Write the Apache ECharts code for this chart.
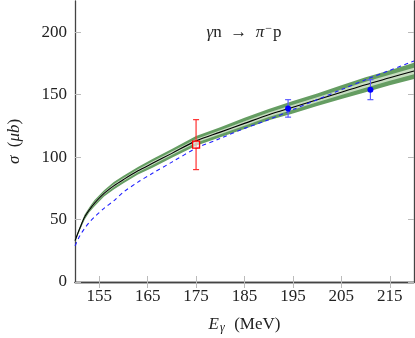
<!DOCTYPE html>
<html><head><meta charset="utf-8">
<script src="https://cdn.jsdelivr.net/npm/echarts@6/dist/echarts.min.js"></script>
<style>html,body{margin:0;padding:0;background:#fff}#c{width:415px;height:338px}</style>
</head><body><div id="c"></div>
<script>
// ---- data ----
var energies   = [150,151,152,153,154,156,158,160,163,166,170,175,180,185,190,195,200,205,210,215,220];
var central    = [33,43,52,58,63,71,77,82,89,95,103,113,120,127,134,140,146,152,158,163.5,169];
var outerHigh  = [34,44.5,54,60,65.5,73.5,80,85,92,98.5,106.5,117,124,131.5,138.5,145,151,157.5,164,169.5,175.5];
var outerLow   = [32,41.5,50,56,60.5,68.5,74,79,86,91.5,99.5,109,116,122.5,129.5,135,141,146.5,152,157.5,162.5];
var innerHigh  = [33.5,43.6,52.8,58.8,64,72,78.2,83.2,90.2,96.4,104.4,114.6,121.6,128.8,135.8,142,148,154.2,160.4,165.9,171.6];
var innerLow   = [32.5,42.4,51.2,57.2,62,70,75.8,80.8,87.8,93.6,101.6,111.4,118.4,125.2,132.2,138,144,149.8,155.6,161.1,166.4];
var dashed     = [29,37,43,48,52,59,65,72,80,87,96,107,115,123,130,138,146,154,162,169.5,177];
// experimental points: [E, sigma, low, high]
var redPoints  = [[175,110,90,130]];
var bluePoints = [[194,139,132,146],[211,154,146,162]];
var xTicks = [155,165,175,185,195,205,215];
var yTicks = [0,50,100,150,200];

function pairs(ys){ return energies.map(function(x,i){ return [x, ys[i]]; }); }
function bandSeries(hi, lo, color){
  return {
    type:'custom', data:[[0]], silent:true, z:1, clip:true,
    renderItem:function(params, api){
      var pts=[];
      for(var i=0;i<energies.length;i++) pts.push(api.coord([energies[i], hi[i]]));
      for(var j=energies.length-1;j>=0;j--) pts.push(api.coord([energies[j], lo[j]]));
      return {type:'polygon', shape:{points:pts}, style:{fill:color}};
    }
  };
}
function errSeries(pts, color){
  return {
    type:'custom', data:pts, z:5, silent:true,
    renderItem:function(params, api){
      var x=api.value(0);
      var top=api.coord([x, api.value(3)]);
      var bot=api.coord([x, api.value(2)]);
      var w=3;
      var st={stroke:color, lineWidth:1.2};
      return {type:'group', children:[
        {type:'line', shape:{x1:top[0],y1:top[1],x2:bot[0],y2:bot[1]}, style:st},
        {type:'line', shape:{x1:top[0]-w,y1:top[1],x2:top[0]+w,y2:top[1]}, style:st},
        {type:'line', shape:{x1:bot[0]-w,y1:bot[1],x2:bot[0]+w,y2:bot[1]}, style:st}
      ]};
    }
  };
}
var font='"Liberation Serif", "DejaVu Serif", "Times New Roman", serif';
var axisLine={show:true, lineStyle:{color:'#444', width:1.3}};
var tickStyle={show:true, inside:true, length:6, lineStyle:{color:'#bbb', width:1}};

var chart=echarts.init(document.getElementById('c'), null, {renderer:'canvas'});
chart.setOption({
  animation:false,
  backgroundColor:'#fff',
  grid:{left:75, right:1, top:1, bottom:56, containLabel:false, outerBoundsMode:'none'},
  xAxis:[{
    type:'value', min:150, max:220, position:'bottom',
    axisLine:axisLine,
    axisTick:Object.assign({customValues:xTicks}, tickStyle),
    axisLabel:{customValues:xTicks, margin:6, color:'#222', fontFamily:font, fontSize:17},
    splitLine:{show:false},
    name:'{i|E}{s|γ}  (MeV)', nameLocation:'middle', nameGap:33,
    nameTextStyle:{fontFamily:font, fontSize:17, color:'#222',
      rich:{i:{fontStyle:'italic', fontFamily:font, fontSize:17, color:'#222'},
            s:{fontStyle:'italic', fontFamily:font, fontSize:12, color:'#222', verticalAlign:'bottom', padding:[7,1,0,1]}}}
  },{
    type:'value', min:150, max:220, position:'top',
    axisLine:axisLine,
    axisTick:Object.assign({customValues:xTicks}, tickStyle),
    axisLabel:{show:false}, splitLine:{show:false}
  }],
  yAxis:[{
    type:'value', min:0, max:225, position:'left',
    axisLine:axisLine,
    axisTick:Object.assign({customValues:yTicks}, tickStyle),
    axisLabel:{customValues:yTicks, margin:8, color:'#222', fontFamily:font, fontSize:17},
    splitLine:{show:false},
    name:'{i|σ}  ({i|μb})', nameLocation:'middle', nameGap:52, nameRotate:90,
    nameTextStyle:{fontFamily:font, fontSize:17, color:'#222',
      rich:{i:{fontStyle:'italic', fontFamily:font, fontSize:17, color:'#222'}}}
  },{
    type:'value', min:0, max:225, position:'right',
    axisLine:axisLine,
    axisTick:Object.assign({customValues:yTicks}, tickStyle),
    axisLabel:{show:false}, splitLine:{show:false}
  }],
  graphic:[{
    type:'text', x:244, y:33,
    style:{
      text:'{i|γ}n  →  {i|π}{s|−}p',
      x:0, y:0, align:'center', verticalAlign:'middle',
      fontFamily:font, fontSize:17, fill:'#222',
      rich:{i:{fontStyle:'italic', fontFamily:font, fontSize:17, fill:'#222'},
            s:{fontFamily:font, fontSize:12, fill:'#222', verticalAlign:'top', padding:[0,1,8,1]}}
    }
  }],
  series:[
    bandSeries(outerHigh, outerLow, '#659d62'),
    bandSeries(innerHigh, innerLow, '#c6dcc0'),
    {type:'line', data:pairs(central), smooth:0.3, symbol:'none', z:3,
     lineStyle:{color:'#000', width:1.1}},
    {type:'line', data:pairs(dashed), smooth:0.3, symbol:'none', z:4,
     lineStyle:{color:'#1f1fff', width:1.1, type:[4,3.5]}},
    errSeries(redPoints, '#ff3030'),
    errSeries(bluePoints, '#5b5bff'),
    {type:'scatter', data:redPoints.map(function(p){return [p[0],p[1]];}), z:10,
     symbol:'rect', symbolSize:7, itemStyle:{color:'rgba(255,255,255,0.6)', borderColor:'#ff0000', borderWidth:1.3, opacity:1}},
    {type:'scatter', data:bluePoints.map(function(p){return [p[0],p[1]];}), z:10,
     symbol:'circle', symbolSize:6, itemStyle:{color:'#0000ff', opacity:1}}
  ]
});
</script></body></html>
